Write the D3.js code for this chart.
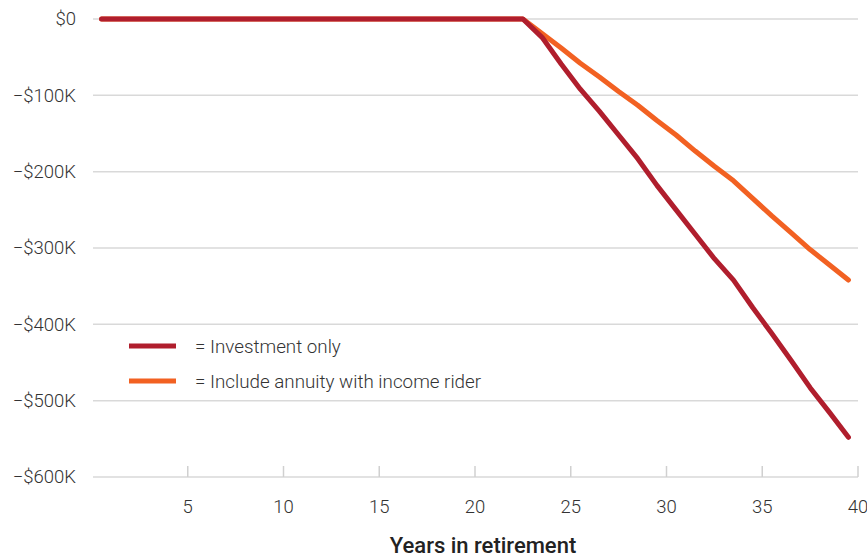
<!DOCTYPE html>
<html>
<head>
<meta charset="utf-8">
<script src="https://cdn.jsdelivr.net/npm/d3@7"></script>
<style>
  body { margin: 0; background: #fff; }
  svg { display: block; font-family: Roboto, "Noto Sans", sans-serif; }
</style>
</head>
<body>
<svg id="chart" width="867" height="558"></svg>
<script>
// years are plotted at the middle of each year of retirement
const years = [0.5, 22.5, 23.5, 24.5, 25.5, 26.5, 27.5, 28.5, 29.5, 30.5, 31.5,
  32.5, 33.5, 34.5, 35.5, 36.5, 37.5, 38.5, 39.5];
const investmentOnly = [0, 0, -24, -59, -92, -121, -152, -183, -218, -250, -282,
  -314, -342, -378, -412, -447, -483, -515, -548];
const withAnnuity = [0, 0, -19, -38, -58, -76, -95, -113, -133, -152, -173,
  -193, -212, -235, -258, -280, -302, -322, -342];

const yTicks = [0, -100, -200, -300, -400, -500, -600];
const yTickLabels = ["$0", "\u2212$100K", "\u2212$200K", "\u2212$300K", "\u2212$400K", "\u2212$500K", "\u2212$600K"];
const xTicks = [5, 10, 15, 20, 25, 30, 35, 40];

const seriesNames = ["= Investment only", "= Include annuity with income rider"];
const seriesColors = ["#b01e2d", "#f26122"];

const svg = d3.select("#chart");

const x = d3.scaleLinear().domain([0, 40]).range([92, 858]);
const y = d3.scaleLinear().domain([0, -600]).range([19, 477]);

// gridlines
svg.append("g")
  .selectAll("line")
  .data(yTicks)
  .join("line")
  .attr("x1", 93).attr("x2", 858)
  .attr("y1", d => y(d)).attr("y2", d => y(d))
  .attr("stroke", "#d9d9d9")
  .attr("stroke-width", 1.5);

// y labels
svg.append("g")
  .selectAll("text")
  .data(yTicks)
  .join("text")
  .attr("x", 76)
  .attr("y", d => y(d))
  .attr("dy", "0.35em")
  .attr("text-anchor", "end")
  .attr("font-size", 18.5)
  .attr("font-weight", 300)
  .attr("fill", "#333")
  .text((d, i) => yTickLabels[i]);

// x ticks going up from the bottom line
const xAxis = svg.append("g");
xAxis.selectAll("line")
  .data(xTicks)
  .join("line")
  .attr("x1", d => x(d)).attr("x2", d => x(d))
  .attr("y1", y(-600) - 11).attr("y2", y(-600))
  .attr("stroke", "#d0d0d0")
  .attr("stroke-width", 1.5);
xAxis.selectAll("text")
  .data(xTicks)
  .join("text")
  .attr("x", d => x(d))
  .attr("y", 513)
  .attr("text-anchor", "middle")
  .attr("font-size", 18.5)
  .attr("font-weight", 300)
  .attr("fill", "#333")
  .text(d => d);

svg.append("text")
  .attr("x", 483)
  .attr("y", 553)
  .attr("text-anchor", "middle")
  .attr("font-size", 22)
  .attr("font-weight", 500)
  .attr("fill", "#222")
  .text("Years in retirement");

const line = d3.line()
  .x((d, i) => x(years[i]))
  .y(d => y(d));

// annuity drawn first so the investment line sits on top where they overlap
[withAnnuity, investmentOnly].forEach((vals, k) => {
  svg.append("path")
    .attr("d", line(vals))
    .attr("fill", "none")
    .attr("stroke", seriesColors[1 - k])
    .attr("stroke-width", 5)
    .attr("stroke-linejoin", "round")
    .attr("stroke-linecap", "round");
});

// legend
const legend = svg.append("g");
seriesNames.forEach((name, i) => {
  const ly = 346 + i * 35;
  legend.append("line")
    .attr("x1", 129).attr("x2", 176)
    .attr("y1", ly).attr("y2", ly)
    .attr("stroke", seriesColors[i])
    .attr("stroke-width", 5);
  legend.append("text")
    .attr("x", 195)
    .attr("y", ly)
    .attr("dy", "0.35em")
    .attr("font-size", 18.8)
    .attr("font-weight", 300)
    .attr("fill", "#333")
    .text(name);
});
</script>
</body>
</html>
